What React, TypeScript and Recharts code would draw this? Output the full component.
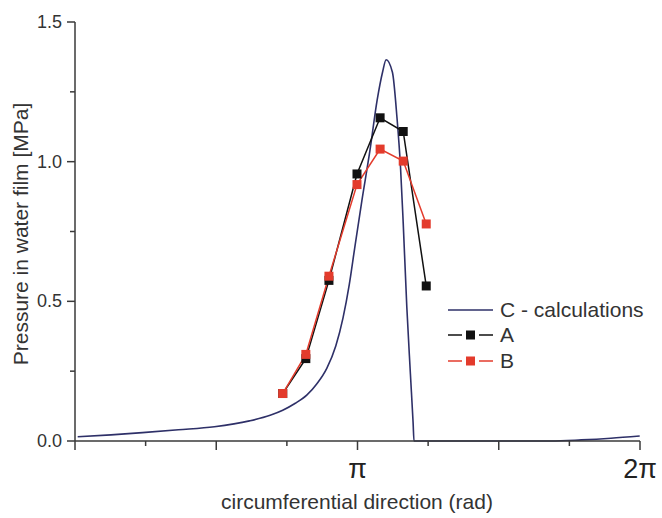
import React from "react";
import { LineChart, Line, XAxis, YAxis } from "recharts";

const PI = Math.PI;

// Curve C - calculations
const cX = [0.03, 0.4, 0.75, 1.15, 1.55, 1.94, 2.17, 2.31, 2.45, 2.58, 2.69, 2.8, 2.9, 2.98, 3.05, 3.11, 3.19, 3.28, 3.36, 3.42, 3.46, 3.53, 3.58, 3.62, 3.65, 3.69, 3.73, 3.76, 3.77, 4.5, 5.29, 5.63, 5.96, 6.28];
const cY = [0.015, 0.022, 0.03, 0.04, 0.051, 0.072, 0.092, 0.11, 0.135, 0.165, 0.205, 0.26, 0.34, 0.44, 0.56, 0.69, 0.86, 1.04, 1.22, 1.32, 1.365, 1.32, 1.16, 0.98, 0.78, 0.48, 0.24, 0.065, 0, 0, 0, 0.004, 0.01, 0.018];

// Measurements
const mX = [2.31, 2.567, 2.824, 3.136, 3.393, 3.65, 3.906];
const aY = [0.17, 0.295, 0.575, 0.956, 1.157, 1.108, 0.555];
const bY = [0.17, 0.31, 0.59, 0.918, 1.045, 1.002, 0.777];

const xTicks = [0, PI / 4, PI / 2, (3 * PI) / 4, PI, (5 * PI) / 4, (3 * PI) / 2, (7 * PI) / 4, 2 * PI];
const xLabels: Record<string, string> = { "4": "\u03C0", "8": "2\u03C0" };
const yTicks = [0, 0.25, 0.5, 0.75, 1, 1.25, 1.5];
const yLabels = ["0.0", "", "0.5", "", "1.0", "", "1.5"];

const seriesNames = ["C - calculations", "A", "B"];
const xTitle = "circumferential direction (rad)";
const yTitle = "Pressure in water film [MPa]";

const cData = cX.map((x, i) => ({ x, c: cY[i] }));
const aData = mX.map((x, i) => ({ x, a: aY[i] }));
const bData = mX.map((x, i) => ({ x, b: bY[i] }));

const AX = "#3a3a3a";
const C_COL = "#2e3068";
const A_COL = "#111111";
const B_COL = "#e33b2c";
const FONT = "'Liberation Sans', Arial, sans-serif";

const XTick = (props: any) => {
  const { x, y, index } = props;
  const major = index % 2 === 0;
  const lab = xLabels[String(index)];
  return (
    <g>
      <line x1={x} x2={x} y1={y} y2={y + (major ? 9 : 5)} stroke={AX} strokeWidth={1.5} />
      {lab ? (
        <text x={x} y={y + 37} textAnchor="middle" fontSize={27} fill="#222" fontFamily={FONT}>
          {lab}
        </text>
      ) : null}
    </g>
  );
};

const YTick = (props: any) => {
  const { x, y, index } = props;
  const major = index % 2 === 0;
  return (
    <g>
      <line x1={x} x2={x - (major ? 8 : 5)} y1={y} y2={y} stroke={AX} strokeWidth={1.5} />
      {major ? (
        <text x={x - 13} y={y} textAnchor="end" dominantBaseline="central" fontSize={18} fill="#333" fontFamily={FONT}>
          {yLabels[index]}
        </text>
      ) : null}
    </g>
  );
};

const Square = (color: string) => (props: any) => {
  const { cx, cy } = props;
  if (cx == null || cy == null) return <g />;
  return <rect x={cx - 4.5} y={cy - 4.5} width={9} height={9} fill={color} />;
};

const LegendBox = () => {
  const rows = [
    { name: seriesNames[0], col: C_COL, mark: false },
    { name: seriesNames[1], col: A_COL, mark: true },
    { name: seriesNames[2], col: B_COL, mark: true },
  ];
  return (
    <div style={{ position: "absolute", left: 448, top: 297, fontFamily: FONT, fontSize: 21, color: "#333" }}>
      {rows.map((r, i) => (
        <div key={i} style={{ display: "flex", alignItems: "center", height: 25.5 }}>
          <svg width={46} height={14} style={{ marginRight: 6 }}>
            {r.mark ? (
              <>
                <line x1={0} x2={14} y1={7} y2={7} stroke={r.col} strokeWidth={1.5} />
                <rect x={18} y={2.5} width={9} height={9} fill={r.col} />
                <line x1={31} x2={45} y1={7} y2={7} stroke={r.col} strokeWidth={1.5} />
              </>
            ) : (
              <line x1={0} x2={45} y1={7} y2={7} stroke={r.col} strokeWidth={1.5} />
            )}
          </svg>
          <span>{r.name}</span>
        </div>
      ))}
    </div>
  );
};

export default function App() {
  return (
    <div style={{ width: 662, height: 518, background: "#fff", position: "relative" }}>
      <style>{"body{margin:0}"}</style>
      <LineChart width={662} height={518} margin={{ top: 22, right: 22, bottom: 0, left: 0 }}>
        <XAxis
          dataKey="x"
          type="number"
          domain={[0, 2 * PI]}
          ticks={xTicks}
          interval={0}
          tickSize={0}
          tickMargin={0}
          tickLine={false}
          tick={<XTick />}
          height={77}
          axisLine={{ stroke: AX, strokeWidth: 1.5 }}
          allowDataOverflow
        />
        <YAxis
          type="number"
          domain={[0, 1.5]}
          ticks={yTicks}
          interval={0}
          tickSize={0}
          tickMargin={0}
          tickLine={false}
          tick={<YTick />}
          width={75}
          axisLine={{ stroke: AX, strokeWidth: 1.5 }}
        />
        <Line
          data={cData}
          dataKey="c"
          type="monotone"
          stroke={C_COL}
          strokeWidth={1.6}
          dot={false}
          isAnimationActive={false}
        />
        <Line
          data={aData}
          dataKey="a"
          type="linear"
          stroke={A_COL}
          strokeWidth={1.5}
          dot={Square(A_COL)}
          activeDot={false}
          isAnimationActive={false}
        />
        <Line
          data={bData}
          dataKey="b"
          type="linear"
          stroke={B_COL}
          strokeWidth={1.5}
          dot={Square(B_COL)}
          activeDot={false}
          isAnimationActive={false}
        />
      </LineChart>
      <LegendBox />
      <div
        style={{
          position: "absolute",
          left: 0,
          width: 714,
          top: 490,
          textAlign: "center",
          fontFamily: FONT,
          fontSize: 21,
          color: "#333",
          lineHeight: "24px",
        }}
      >
        {xTitle}
      </div>
      <div
        style={{
          position: "absolute",
          left: 21,
          top: 234,
          width: 340,
          marginLeft: -170,
          marginTop: -12,
          textAlign: "center",
          transform: "rotate(-90deg)",
          fontFamily: FONT,
          fontSize: 21,
          color: "#333",
          lineHeight: "24px",
          whiteSpace: "nowrap",
        }}
      >
        {yTitle}
      </div>
    </div>
  );
}
